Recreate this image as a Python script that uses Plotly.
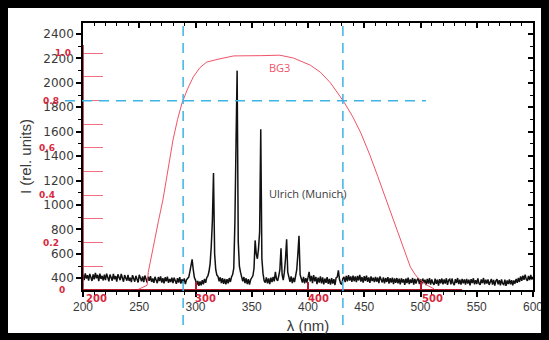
import plotly.graph_objects as go

# ---------------- data ----------------
wavelength_nm = list(range(200, 601))

intensity_200_279 = [
    430, 385, 440, 398, 425, 380, 436, 402, 378, 432, 392, 445, 400, 428, 376, 438, 395, 420, 382, 430,
    385, 438, 398, 375, 430, 405, 380, 436, 392, 418, 372, 432, 400, 384, 435, 390, 372, 426, 404, 380,
    428, 378, 405, 368, 425, 392, 372, 420, 388, 366, 428, 396, 375, 415, 368, 422, 390, 365, 412, 380,
    418, 370, 398, 362, 412, 388, 360, 410, 378, 416, 365, 400, 358, 408, 376, 414, 362, 395, 370, 405,
]
intensity_280_359 = [
    360, 405, 370, 355, 400, 365, 410, 356, 392, 362, 398, 352, 388, 402, 410, 455, 525, 555, 470, 405,
    385, 345, 378, 338, 375, 342, 385, 350, 395, 362, 405, 420, 455, 520, 660, 870, 1262, 600, 470, 425,
    415, 375, 408, 360, 400, 355, 395, 350, 392, 358, 402, 370, 410, 430, 480, 850, 1490, 2100, 700, 500,
    450, 395, 375, 410, 360, 400, 352, 392, 348, 388, 405, 420, 480, 710, 600, 560, 640, 780, 1620, 560,
]
intensity_360_439 = [
    440, 380, 365, 408, 358, 398, 352, 405, 368, 412, 375, 452, 395, 378, 420, 470, 646, 430, 385, 450,
    560, 720, 450, 390, 370, 415, 360, 405, 368, 420, 470, 600, 747, 430, 385, 365, 412, 358, 402, 365,
    405, 452, 375, 420, 360, 425, 375, 412, 352, 405, 365, 415, 358, 408, 350, 398, 362, 410, 355, 395,
    348, 402, 356, 392, 345, 405, 410, 465, 390, 358, 350, 398, 412, 368, 420, 375, 425, 382, 415, 370,
]
intensity_440_519 = [
    422, 376, 415, 368, 420, 382, 428, 372, 410, 365, 418, 378, 422, 370, 407, 362, 415, 378, 405, 368,
    412, 372, 406, 360, 415, 378, 366, 408, 358, 402, 370, 410, 356, 400, 365, 405, 352, 398, 362, 402,
    358, 396, 350, 400, 365, 392, 346, 398, 360, 405, 352, 390, 362, 402, 348, 395, 356, 388, 400, 352,
    392, 350, 398, 360, 388, 344, 395, 356, 402, 348, 390, 362, 346, 396, 354, 388, 340, 392, 358, 398,
]
intensity_520_600 = [
    350, 390, 356, 400, 346, 385, 393, 350, 398, 360, 344, 392, 362, 402, 353, 388, 348, 395, 358, 390,
    348, 395, 356, 388, 343, 392, 360, 400, 350, 385, 353, 398, 358, 346, 390, 360, 402, 350, 388, 356,
    390, 346, 382, 395, 348, 386, 340, 380, 392, 350, 385, 343, 390, 356, 348, 388, 338, 382, 353, 390,
    350, 385, 343, 382, 356, 395, 362, 402, 370, 415, 380, 422, 388, 430, 392, 380, 420, 385, 428, 390, 412,
]
intensity = intensity_200_279 + intensity_280_359 + intensity_360_439 + intensity_440_519 + intensity_520_600

bg3_nm = [248, 257, 258, 263, 267, 271, 276, 280, 284, 288, 293, 298, 304, 310, 320, 334, 358, 375,
          387, 395, 402, 411, 420, 432, 440, 447, 455, 462, 469, 475, 480, 486, 491, 496, 500, 506, 512]
bg3_T = [0.0, 0.02, 0.075, 0.2, 0.29, 0.38, 0.52, 0.634, 0.72, 0.79, 0.85, 0.90, 0.94, 0.963, 0.975,
         0.989, 0.99, 0.992, 0.98, 0.965, 0.95, 0.92, 0.875, 0.794, 0.73, 0.663, 0.57, 0.48, 0.389,
         0.31, 0.24, 0.16, 0.097, 0.06, 0.042, 0.02, 0.005]

y_tick_vals = [400, 600, 800, 1000, 1200, 1400, 1600, 1800, 2000, 2200, 2400]
x_tick_vals = [200, 250, 300, 350, 400, 450, 500, 550, 600]
red_T_ticks = [0.1, 0.2, 0.3, 0.4, 0.5, 0.6, 0.7, 0.8, 0.9, 1.0]
red_T_labels = ["0", "0.2", "0.4", "0.6", "0.8", "1.0"]
red_T_label_vals = [0.0, 0.2, 0.4, 0.6, 0.8, 1.0]
red_nm_labels = ["200", "300", "400", "500"]
red_nm_vals = [200, 300, 400, 500]
cut_on_nm = 289
cut_off_nm = 431
level_T = 0.8

# ---------------- styles ----------------
RED = "#ef5468"
DARKRED = "#b8182e"
BLUE = "#3db4e4"
TXT = "#3a3a3a"
X_RANGE = [200, 600]
Y_RANGE = [304, 2490]
T_RANGE = [0, 1.128]

fig = go.Figure()
fig.add_trace(go.Scatter(x=wavelength_nm, y=intensity, mode="lines",
                         line=dict(color="#111111", width=1.5), showlegend=False, hoverinfo="skip"))
fig.add_trace(go.Scatter(x=bg3_nm, y=bg3_T, yaxis="y2", mode="lines",
                         line=dict(color=RED, width=1), showlegend=False, hoverinfo="skip"))
# helper traces so the mirrored/overlay axes are drawn
fig.add_trace(go.Scatter(x=[None], y=[None], xaxis="x2", yaxis="y", showlegend=False, hoverinfo="skip"))
fig.add_trace(go.Scatter(x=[None], y=[None], xaxis="x", yaxis="y3", showlegend=False, hoverinfo="skip"))
fig.add_trace(go.Scatter(x=[None], y=[None], xaxis="x3", yaxis="y", showlegend=False, hoverinfo="skip"))

tickfont = dict(family="Liberation Sans, Arial, sans-serif", size=12, color=TXT)

fig.update_layout(
    width=541, height=332,
    margin=dict(l=75, r=16, t=15, b=50),
    paper_bgcolor="white",
    plot_bgcolor="white",
    xaxis=dict(range=X_RANGE, tickvals=x_tick_vals, ticks="outside", ticklen=5, tickwidth=1.5,
               tickcolor="black", showline=True, linecolor="black", linewidth=1.5, automargin=False,
               showgrid=False, zeroline=False, tickfont=tickfont,
               minor=dict(dtick=10, tick0=200, ticks="outside", ticklen=3, tickwidth=1.2, tickcolor="black"),
               title=dict(text="λ (nm)", font=dict(family="Liberation Sans, Arial", size=15, color=TXT),
                          standoff=7)),
    xaxis2=dict(range=X_RANGE, overlaying="x", side="top", anchor="y", tickvals=x_tick_vals,
                ticks="inside", ticklen=5, tickwidth=1.5, tickcolor="black", showticklabels=False,
                showline=True, linecolor="black", linewidth=1.5, showgrid=False, zeroline=False,
                automargin=False,
                minor=dict(dtick=10, tick0=200, ticks="inside", ticklen=3, tickwidth=1.2, tickcolor="black")),
    xaxis3=dict(range=X_RANGE, overlaying="x", side="bottom", anchor="y", tickvals=red_nm_vals,
                ticks="inside", ticklen=8, tickwidth=1.5, tickcolor=DARKRED, showticklabels=False,
                showline=False, showgrid=False, zeroline=False, automargin=False),
    yaxis=dict(range=Y_RANGE, tickvals=y_tick_vals, ticks="outside", ticklen=5, tickwidth=1.5,
               tickcolor="black", showline=True, linecolor="black", linewidth=1.5, automargin=False,
               showgrid=False, zeroline=False,
               tickfont=dict(family="DejaVu Sans, sans-serif", size=12, color=TXT),
               minor=dict(dtick=100, tick0=400, ticks="outside", ticklen=3, tickwidth=1.2, tickcolor="black"),
               title=dict(text="I (rel. units)", font=dict(family="Liberation Sans, Arial", size=15, color=TXT),
                          standoff=8)),
    yaxis2=dict(range=T_RANGE, overlaying="y", side="left", anchor="x", tickvals=red_T_ticks,
                ticks="inside", ticklen=20, tickwidth=1.2, tickcolor="#f07080", showticklabels=False,
                showline=False, showgrid=False, zeroline=False, automargin=False),
    yaxis3=dict(range=Y_RANGE, overlaying="y", side="right", anchor="x", tickvals=y_tick_vals,
                ticks="inside", ticklen=5, tickwidth=1.5, tickcolor="black", showticklabels=False,
                showline=True, linecolor="black", linewidth=1.5, showgrid=False, zeroline=False,
                automargin=False,
                minor=dict(dtick=100, tick0=400, ticks="inside", ticklen=3, tickwidth=1.2, tickcolor="black")),
)

# black strip along the bottom of the frame
fig.add_shape(type="rect", xref="paper", yref="paper", x0=-0.2, x1=1.1, y0=-0.2, y1=-0.161,
              fillcolor="black", line=dict(width=0), layer="above")

# red filter-axis lines
fig.add_shape(type="line", xref="x", yref="y2", x0=200, x1=537, y0=0, y1=0,
              line=dict(color=DARKRED, width=2))
fig.add_shape(type="line", xref="x", yref="y2", x0=200, x1=200, y0=0, y1=1.035,
              line=dict(color=DARKRED, width=1.5))

# blue dashed guide lines
dash = "10px,7px"
fig.add_shape(type="line", xref="paper", yref="y2", x0=-0.04, x1=0.762, y0=level_T, y1=level_T,
              line=dict(color=BLUE, width=1.5, dash=dash))
for xv in (cut_on_nm, cut_off_nm):
    fig.add_shape(type="line", xref="x", yref="paper", x0=xv, x1=xv, y0=-0.131, y1=1.0,
                  line=dict(color=BLUE, width=1.5, dash=dash))

# red transmission labels (left)
red_font = dict(family="DejaVu Sans, sans-serif", size=9, color="#d8283e")
label_shift = [-16, -22, -26, -26, -22, -10]
for txt, val, sh in zip(red_T_labels, red_T_label_vals, label_shift):
    fig.add_annotation(x=0, xref="paper", y=val, yref="y2", text="<b>%s</b>" % txt, showarrow=False,
                       xanchor="right", yanchor="middle", xshift=sh, font=red_font)
# red wavelength labels (bottom)
nm_label_shift = [1, -3, -2, -1]
for txt, val, sh in zip(red_nm_labels, red_nm_vals, nm_label_shift):
    fig.add_annotation(x=val, xref="x", y=0, yref="paper", text="<b>%s</b>" % txt, showarrow=False,
                       xanchor="left", yanchor="top", yshift=-1, xshift=sh,
                       font=dict(family="DejaVu Sans, sans-serif", size=10, color="#d8283e"))

fig.add_annotation(x=374.5, xref="x", y=0.94, yref="y2", text="BG3", showarrow=False,
                   font=dict(family="Open Sans, sans-serif", size=11, color=RED))
fig.add_annotation(x=400, xref="x", y=1098, yref="y", text="Ulrich (Munich)", showarrow=False,
                   font=dict(family="Open Sans, sans-serif", size=11, color=TXT))

fig.write_html("out.html", post_script="document.body.style.background='black';")
